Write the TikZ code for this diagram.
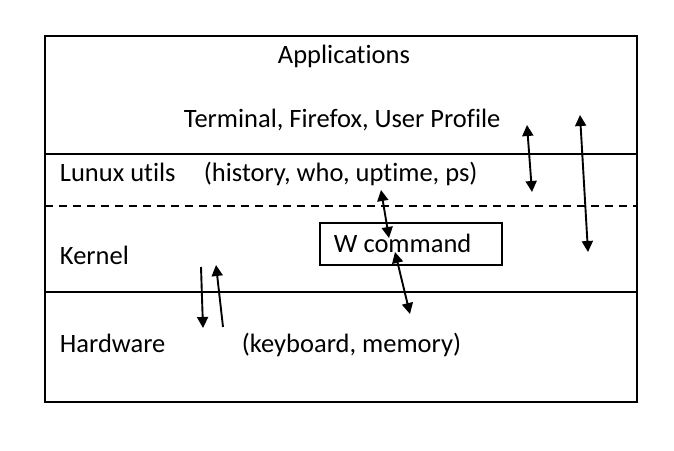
\documentclass[tikz,border=0pt]{standalone}
\usepackage{fontspec}
\setmainfont{Carlito}[Ligatures=NoCommon]
\usetikzlibrary{arrows.meta}
\tikzset{lbl/.style={anchor=base west,inner sep=0pt,font=\fontsize{26.5}{30}\selectfont},
  arr/.style={-{Triangle[length=11pt,width=11pt]},line width=1.9pt},
  darr/.style={{Triangle[length=11pt,width=11pt]}-{Triangle[length=11pt,width=11pt]},line width=1.9pt}}
\begin{document}
\begin{tikzpicture}[x=1pt,y=-1pt,line width=1.9pt]
   \useasboundingbox (0,0) rectangle (674,450);
   \draw (45,36) rectangle (637,402);
   \draw (45,154)--(637,154);
   \draw[dash pattern=on 8pt off 6pt] (45,206)--(637,206);
   \draw (45,292)--(637,292);
   \node[draw,line width=1.9pt,minimum width=182pt,minimum height=42pt,anchor=north west] (wcmd) at (319,222) {};
   \node[lbl] (apps) at (277,63) {Applications};
   \node[lbl] (term) at (183,127) {Terminal, Firefox, User Profile};
   \node[lbl] (utils) at (59,181) {Lunux utils};
   \node[lbl] (hist) at (203,181) {(history, who, uptime, ps)};
   \node[lbl] (kern) at (59,264) {Kernel};
   \node[lbl] (wtxt) at (333,252) {W command};
   \node[lbl] (hw) at (59,352) {Hardware};
   \node[lbl] (kbd) at (241,352) {(keyboard, memory)};
   \coordinate (a1) at (527,125); \coordinate (a2) at (532,192);
   \coordinate (b1) at (580,115); \coordinate (b2) at (588,252);
   \coordinate (c1) at (381,190); \coordinate (c2) at (389,238);
   \coordinate (d1) at (395,252); \coordinate (d2) at (410,314);
   \coordinate (e1) at (201,267); \coordinate (e2) at (203,328);
   \coordinate (f1) at (223,327); \coordinate (f2) at (216,265);
   \draw[darr] (a1)--(a2);
   \draw[darr] (b1)--(b2);
   \draw[darr] (c1)--(c2);
   \draw[darr] (d1)--(d2);
   \draw[arr] (e1)--(e2);
   \draw[arr] (f1)--(f2);
\end{tikzpicture}
\end{document}
